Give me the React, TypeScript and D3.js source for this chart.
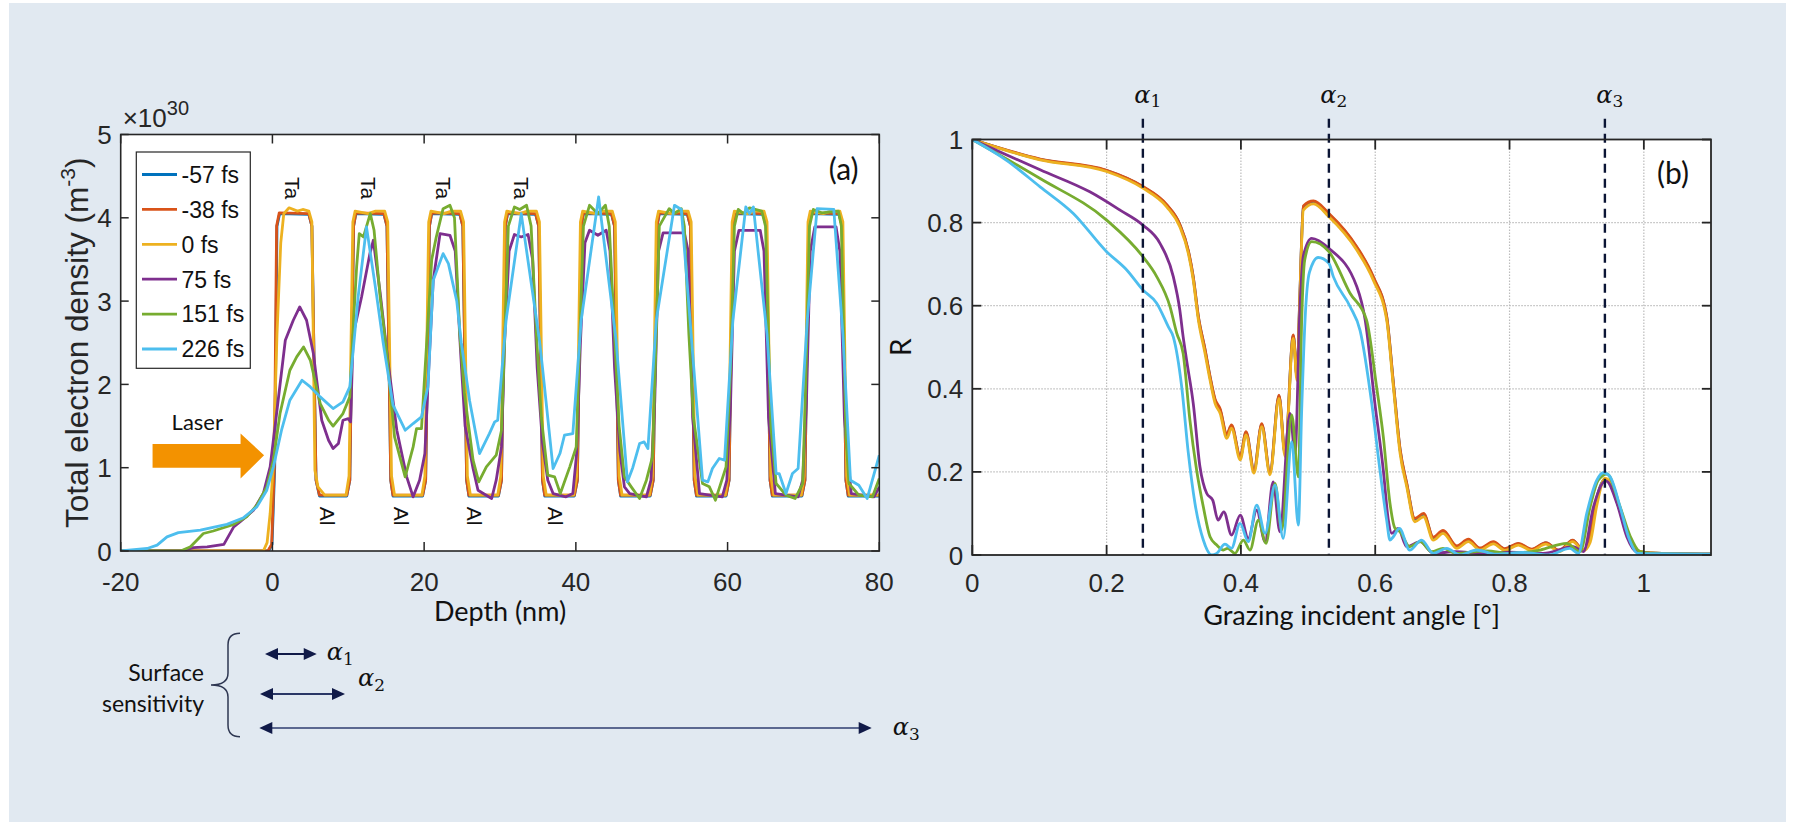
import React from "react";
import * as d3 from "d3";

type Pt = [number, number];

// ---------- shared labels and colours ----------
const seriesLabels = ["-57 fs", "-38 fs", "0 fs", "75 fs", "151 fs", "226 fs"];
const seriesColors = ["#0072BD", "#D95319", "#EDB120", "#7E2F8E", "#77AC30", "#4DBEEE"];

// ---------- panel (a): electron density vs depth ----------
const depthTicks = [-20, 0, 20, 40, 60, 80];
const densityTicks = [0, 1, 2, 3, 4, 5];
const taLabelDepths = [2.7, 12.7, 22.6, 32.9];
const alLabelDepths = [7.3, 17.0, 26.7, 37.3];

const density57: Pt[] = [
  [-20, 0], [-0.5, 0], [-0.05, 0.08], [0.3, 1.0], [0.6, 3.9], [0.95, 4.05], [4.8, 4.04], [5.2, 3.9], [5.75, 0.85], [6.2, 0.66],
  [9.8, 0.66], [10.2, 0.85], [10.7, 3.9], [11.0, 4.05], [14.7, 4.04], [15.1, 3.9], [15.6, 0.85], [15.9, 0.66],
  [19.8, 0.66], [20.2, 0.85], [20.7, 3.9], [21.0, 4.05], [24.7, 4.04], [25.1, 3.9], [25.6, 0.85], [25.9, 0.66],
  [29.8, 0.66], [30.2, 0.85], [30.7, 3.9], [31.0, 4.05], [34.7, 4.04], [35.1, 3.9], [35.6, 0.85], [35.9, 0.66],
  [39.8, 0.66], [40.2, 0.85], [40.7, 3.9], [41.0, 4.05], [44.7, 4.04], [45.1, 3.9], [45.6, 0.85], [45.9, 0.66],
  [49.8, 0.66], [50.2, 0.85], [50.7, 3.9], [51.0, 4.05], [54.7, 4.04], [55.1, 3.9], [55.6, 0.85], [55.9, 0.66],
  [59.8, 0.66], [60.2, 0.85], [60.7, 3.9], [61.0, 4.05], [64.7, 4.04], [65.1, 3.9], [65.6, 0.85], [65.9, 0.66],
  [69.8, 0.66], [70.2, 0.85], [70.7, 3.9], [71.0, 4.05], [74.7, 4.04], [75.1, 3.9], [75.6, 0.85], [75.9, 0.66],
  [80, 0.66],
];

const density38: Pt[] = [
  [-20, 0], [-0.6, 0], [-0.1, 0.08], [0.25, 1.0], [0.55, 3.9], [0.9, 4.06], [4.8, 4.05], [5.2, 3.9], [5.75, 0.85], [6.2, 0.67],
  [9.8, 0.67], [10.2, 0.85], [10.7, 3.9], [11.0, 4.06], [14.7, 4.05], [15.1, 3.9], [15.6, 0.85], [15.9, 0.67],
  [19.8, 0.67], [20.2, 0.85], [20.7, 3.9], [21.0, 4.06], [24.7, 4.05], [25.1, 3.9], [25.6, 0.85], [25.9, 0.67],
  [29.8, 0.67], [30.2, 0.85], [30.7, 3.9], [31.0, 4.06], [34.7, 4.05], [35.1, 3.9], [35.6, 0.85], [35.9, 0.67],
  [39.8, 0.67], [40.2, 0.85], [40.7, 3.9], [41.0, 4.06], [44.7, 4.05], [45.1, 3.9], [45.6, 0.85], [45.9, 0.67],
  [49.8, 0.67], [50.2, 0.85], [50.7, 3.9], [51.0, 4.06], [54.7, 4.05], [55.1, 3.9], [55.6, 0.85], [55.9, 0.67],
  [59.8, 0.67], [60.2, 0.85], [60.7, 3.9], [61.0, 4.06], [64.7, 4.05], [65.1, 3.9], [65.6, 0.85], [65.9, 0.67],
  [69.8, 0.67], [70.2, 0.85], [70.7, 3.9], [71.0, 4.06], [74.7, 4.05], [75.1, 3.9], [75.6, 0.85], [75.9, 0.67],
  [80, 0.67],
];

const density0: Pt[] = [
  [-20, 0], [-1.2, 0], [-0.7, 0.1], [-0.3, 0.45], [0.1, 1.0], [0.6, 2.6], [1.1, 3.7], [1.5, 4.05], [2.2, 4.12], [3.3, 4.08], [4.0, 4.1], [4.8, 4.08], [5.2, 3.95], [5.6, 0.97], [6.0, 0.77], [6.9, 0.67],
  [9.7, 0.67], [10.1, 0.9], [10.6, 3.95], [10.9, 4.08], [12.6, 4.05], [13.6, 4.08], [14.8, 4.08], [15.2, 3.95], [15.7, 0.9], [16.1, 0.67],
  [19.7, 0.67], [20.1, 0.9], [20.6, 3.95], [20.9, 4.08], [22.6, 4.05], [23.6, 4.08], [24.8, 4.08], [25.2, 3.95], [25.7, 0.9], [26.1, 0.67],
  [29.7, 0.67], [30.1, 0.9], [30.6, 3.95], [30.9, 4.08], [32.6, 4.05], [33.6, 4.08], [34.8, 4.08], [35.2, 3.95], [35.7, 0.9], [36.1, 0.67],
  [39.7, 0.67], [40.1, 0.9], [40.6, 3.95], [40.9, 4.08], [42.6, 4.05], [43.6, 4.08], [44.8, 4.08], [45.2, 3.95], [45.7, 0.9], [46.1, 0.67],
  [49.7, 0.67], [50.1, 0.9], [50.6, 3.95], [50.9, 4.08], [52.6, 4.05], [53.6, 4.08], [54.8, 4.08], [55.2, 3.95], [55.7, 0.9], [56.1, 0.67],
  [59.7, 0.67], [60.1, 0.9], [60.6, 3.95], [60.9, 4.08], [62.6, 4.05], [63.6, 4.08], [64.8, 4.08], [65.2, 3.95], [65.7, 0.9], [66.1, 0.67],
  [69.7, 0.67], [70.1, 0.9], [70.6, 3.95], [70.9, 4.08], [72.6, 4.05], [73.6, 4.08], [74.8, 4.08], [75.2, 3.95], [75.7, 0.9], [76.1, 0.67],
  [80, 0.67],
];

const density75: Pt[] = [
  [-20, 0], [-12.1, 0], [-10.4, 0.04], [-8.6, 0.05], [-6.4, 0.08], [-5.1, 0.29], [-4.0, 0.37], [-2.5, 0.49], [-1.2, 0.69], [-0.3, 1.01],
  [0.6, 1.69], [1.7, 2.53], [2.75, 2.77], [3.6, 2.93], [4.5, 2.77], [5.4, 2.37], [6.5, 1.57], [7.4, 1.33], [8.0, 1.23], [8.7, 1.29],
  [9.3, 1.57], [10.0, 1.59], [10.3, 1.55], [10.65, 2.6], [11.75, 3.05], [12.85, 3.57], [13.3, 3.73], [14.2, 3.1], [15.2, 2.3], [16.4, 1.45],
  [17.7, 0.89], [18.55, 0.65], [19.4, 0.85], [20.1, 1.17], [20.5, 2.0], [21.2, 3.25], [22.1, 3.81], [23.4, 3.79], [24.1, 3.6], [24.8, 2.4],
  [25.4, 1.5], [26.45, 0.99], [27.1, 0.73], [27.8, 0.69], [28.9, 0.63], [29.5, 0.85], [30.2, 1.25], [30.6, 2.5], [31.2, 3.6], [31.9, 3.8],
  [32.8, 3.77], [33.7, 3.8], [34.3, 3.5], [34.9, 2.2], [35.6, 1.3], [36.3, 0.85], [37.0, 0.69], [38.7, 0.65], [39.6, 0.69], [40.1, 1.17],
  [40.6, 2.5], [41.2, 3.7], [41.8, 3.85], [42.9, 3.79], [44.0, 3.85], [44.5, 3.6], [45.1, 2.2], [45.8, 1.2], [46.4, 0.77], [47.1, 0.69],
  [49.3, 0.65], [49.9, 0.85], [50.4, 1.8], [50.9, 3.6], [51.5, 3.82], [54.3, 3.82], [54.8, 3.6], [55.4, 1.6], [56.3, 0.69], [59.3, 0.65],
  [59.9, 0.85], [60.4, 1.8], [60.9, 3.6], [61.5, 3.85], [64.3, 3.85], [64.8, 3.6], [65.4, 1.6], [66.3, 0.69], [69.3, 0.65], [69.9, 0.85],
  [70.4, 1.8], [70.9, 3.6], [71.5, 3.89], [74.3, 3.89], [74.8, 3.6], [75.4, 1.6], [76.3, 0.69], [79.3, 0.65], [80, 0.77],
];

const density151: Pt[] = [
  [-20, 0], [-12.1, 0], [-10.8, 0.05], [-9.1, 0.21], [-7.8, 0.24], [-5.1, 0.32], [-3.4, 0.41], [-2.05, 0.55], [-0.74, 0.77], [0.13, 1.09],
  [1.0, 1.65], [2.3, 2.17], [3.2, 2.33], [4.1, 2.45], [5.0, 2.29], [6.3, 1.77], [7.4, 1.57], [8.0, 1.5], [9.3, 1.65], [10.2, 1.85],
  [10.7, 2.77], [11.1, 3.41], [11.45, 3.81], [12.0, 3.77], [12.9, 4.05], [13.4, 3.85], [14.2, 3.05], [15.05, 2.4], [16.1, 1.37], [17.5, 0.89],
  [18.55, 1.25], [19.0, 1.47], [19.65, 1.47], [20.4, 2.6], [21.0, 3.5], [21.6, 3.77], [22.5, 4.11], [23.4, 4.15], [24.0, 4.0], [24.7, 2.6],
  [25.3, 1.9], [26.45, 1.09], [27.2, 0.83], [28.2, 1.01], [29.5, 1.15], [30.2, 1.45], [30.6, 2.5], [31.1, 3.9], [31.9, 4.13], [32.6, 4.1],
  [33.5, 4.15], [34.1, 3.9], [34.8, 2.6], [35.45, 1.6], [36.3, 0.91], [37.2, 0.89], [37.95, 0.69], [39.2, 1.01], [40.05, 1.25], [40.5, 2.5],
  [41.0, 3.9], [41.8, 4.15], [42.9, 4.05], [43.9, 4.15], [44.4, 3.9], [45.1, 2.6], [45.7, 1.5], [46.4, 0.89], [47.3, 0.77], [48.4, 0.63],
  [49.3, 0.85], [50.1, 1.13], [50.6, 2.6], [51.0, 3.9], [52.3, 4.11], [53.0, 4.05], [53.9, 4.11], [54.3, 3.9], [54.9, 2.6], [55.5, 1.6],
  [56.7, 0.81], [57.6, 0.77], [58.4, 0.61], [59.8, 1.01], [60.4, 2.2], [60.9, 3.9], [61.4, 4.1], [62.1, 4.05], [62.9, 4.12], [64.5, 4.08],
  [65.0, 3.9], [65.7, 1.5], [66.4, 0.81], [67.7, 0.67], [68.9, 0.63], [69.9, 0.81], [70.3, 2.0], [70.8, 3.9], [71.3, 4.1], [72.4, 4.06],
  [74.6, 4.08], [75.0, 3.9], [75.6, 1.4], [76.0, 0.81], [77.3, 0.67], [79.1, 0.65], [80, 0.87],
];

const density226: Pt[] = [
  [-20, 0], [-16.5, 0.03], [-15.2, 0.07], [-13.9, 0.17], [-12.4, 0.22], [-9.5, 0.25], [-6.0, 0.32], [-3.8, 0.4], [-2.05, 0.53], [-0.74, 0.73],
  [0.13, 1.01], [1.2, 1.45], [2.3, 1.81], [3.9, 2.05], [5.0, 1.97], [6.3, 1.85], [8.0, 1.71], [9.3, 1.79], [10.2, 1.97], [11.3, 3.05],
  [12.4, 3.89], [13.7, 3.09], [14.6, 2.5], [15.9, 1.75], [17.5, 1.45], [18.55, 1.53], [19.65, 1.61], [20.5, 1.97], [21.2, 3.25], [22.5, 3.57],
  [23.2, 3.45], [24.3, 3.0], [24.9, 2.5], [26.0, 1.8], [27.3, 1.17], [28.6, 1.41], [29.3, 1.55], [29.7, 1.57], [30.8, 2.77], [32.8, 4.05],
  [35.2, 2.53], [35.6, 2.2], [37.0, 0.99], [37.9, 1.17], [38.5, 1.39], [39.6, 1.41], [40.7, 2.77], [43.0, 4.25], [45.3, 2.53], [46.8, 0.83],
  [47.5, 1.0], [48.4, 1.29], [49.0, 1.31], [49.5, 1.23], [50.6, 2.77], [53.0, 4.15], [53.9, 4.1], [55.2, 2.6], [56.7, 0.85], [57.4, 0.83],
  [58.0, 0.99], [58.9, 1.11], [59.6, 1.09], [60.7, 2.77], [62.4, 4.13], [62.9, 4.05], [63.4, 4.13], [65.2, 2.6], [66.4, 0.93], [66.8, 0.93],
  [67.7, 0.69], [68.55, 0.93], [69.3, 0.99], [70.5, 2.77], [71.8, 4.11], [74.0, 4.1], [75.2, 2.6], [76.2, 0.85], [77.3, 0.79], [78.4, 0.63],
  [80, 1.15],
];

// ---------- panel (b): reflectivity vs grazing angle ----------
const angleTicks = [0, 0.2, 0.4, 0.6, 0.8, 1];
const reflTicks = [0, 0.2, 0.4, 0.6, 0.8, 1];
const alphaAngles = [0.254, 0.531, 0.942];
const alphaNames = ["1", "2", "3"];

const refl57: Pt[] = [
  [0, 1], [0.101, 0.952], [0.2, 0.925], [0.254, 0.886], [0.2895, 0.842], [0.309, 0.795], [0.3217, 0.731], [0.329, 0.668], [0.3366, 0.573],
  [0.3466, 0.493], [0.354, 0.428], [0.3615, 0.372], [0.369, 0.349], [0.379, 0.289], [0.386, 0.311], [0.399, 0.235], [0.4076, 0.295],
  [0.4195, 0.203], [0.431, 0.314], [0.4433, 0.198], [0.4567, 0.383], [0.4657, 0.243], [0.478, 0.528], [0.4835, 0.428], [0.4875, 0.61],
  [0.493, 0.838], [0.508, 0.85], [0.531, 0.82], [0.5725, 0.74], [0.597, 0.668], [0.617, 0.573], [0.627, 0.413], [0.637, 0.253],
  [0.647, 0.17], [0.659, 0.086], [0.672, 0.098], [0.6865, 0.041], [0.701, 0.057], [0.7215, 0.02], [0.7387, 0.036], [0.756, 0.015],
  [0.776, 0.03], [0.793, 0.014], [0.813, 0.027], [0.833, 0.013], [0.854, 0.029], [0.874, 0.01], [0.894, 0.035], [0.91, 0.011],
  [0.92, 0.047], [0.93, 0.138], [0.942, 0.182], [0.952, 0.166], [0.9646, 0.106], [0.9795, 0.035], [0.994, 0.008], [1.01, 0.005], [1.1, 0.002],
];

const refl38: Pt[] = [
  [0, 1], [0.101, 0.953], [0.2, 0.926], [0.254, 0.887], [0.2895, 0.843], [0.309, 0.796], [0.3217, 0.733], [0.329, 0.67], [0.3366, 0.575],
  [0.3466, 0.495], [0.354, 0.43], [0.3615, 0.375], [0.369, 0.352], [0.379, 0.291], [0.386, 0.313], [0.399, 0.237], [0.4076, 0.297],
  [0.4195, 0.205], [0.431, 0.316], [0.4433, 0.2], [0.4567, 0.385], [0.4657, 0.245], [0.478, 0.53], [0.4835, 0.43], [0.4875, 0.61],
  [0.493, 0.84], [0.508, 0.852], [0.531, 0.822], [0.5725, 0.742], [0.597, 0.67], [0.617, 0.575], [0.627, 0.415], [0.637, 0.255],
  [0.647, 0.172], [0.659, 0.088], [0.672, 0.1], [0.6865, 0.043], [0.701, 0.059], [0.7215, 0.022], [0.7387, 0.038], [0.756, 0.017],
  [0.776, 0.032], [0.793, 0.015], [0.813, 0.028], [0.833, 0.014], [0.854, 0.03], [0.874, 0.011], [0.894, 0.036], [0.91, 0.012],
  [0.92, 0.045], [0.93, 0.135], [0.942, 0.18], [0.952, 0.165], [0.9646, 0.105], [0.9795, 0.035], [0.994, 0.008], [1.01, 0.005], [1.1, 0.002],
];

const refl0: Pt[] = [
  [0, 1], [0.101, 0.951], [0.2, 0.923], [0.254, 0.883], [0.2895, 0.838], [0.309, 0.79], [0.3217, 0.726], [0.329, 0.662], [0.3366, 0.566],
  [0.3466, 0.485], [0.354, 0.421], [0.3615, 0.365], [0.369, 0.341], [0.379, 0.281], [0.386, 0.305], [0.399, 0.229], [0.4076, 0.289],
  [0.4195, 0.197], [0.431, 0.309], [0.4433, 0.193], [0.4567, 0.377], [0.4657, 0.237], [0.478, 0.521], [0.4835, 0.42], [0.4875, 0.6],
  [0.493, 0.83], [0.508, 0.845], [0.531, 0.814], [0.5725, 0.734], [0.597, 0.662], [0.617, 0.566], [0.627, 0.405], [0.637, 0.245],
  [0.647, 0.164], [0.659, 0.08], [0.672, 0.092], [0.6865, 0.036], [0.701, 0.052], [0.7215, 0.016], [0.7387, 0.032], [0.756, 0.012],
  [0.776, 0.027], [0.793, 0.011], [0.813, 0.024], [0.833, 0.011], [0.854, 0.026], [0.874, 0.008], [0.894, 0.032], [0.91, 0.01],
  [0.92, 0.03], [0.93, 0.12], [0.942, 0.185], [0.952, 0.17], [0.9646, 0.108], [0.9795, 0.036], [0.994, 0.008], [1.01, 0.005], [1.1, 0.002],
];

const refl75: Pt[] = [
  [0, 1], [0.101, 0.927], [0.175, 0.874], [0.22, 0.83], [0.254, 0.794], [0.2795, 0.75], [0.2993, 0.67], [0.309, 0.59], [0.314, 0.525],
  [0.319, 0.47], [0.329, 0.365], [0.339, 0.2125], [0.349, 0.1485], [0.358, 0.132], [0.366, 0.084], [0.3746, 0.104], [0.386, 0.048],
  [0.399, 0.096], [0.411, 0.04], [0.4235, 0.108], [0.436, 0.032], [0.448, 0.176], [0.458, 0.056], [0.473, 0.341], [0.4806, 0.245],
  [0.488, 0.6], [0.493, 0.72], [0.5054, 0.762], [0.531, 0.738], [0.5725, 0.646], [0.585, 0.566], [0.5995, 0.365], [0.612, 0.2046],
  [0.6195, 0.084], [0.6246, 0.052], [0.634, 0.064], [0.647, 0.02], [0.667, 0.032], [0.6865, 0.004], [0.72, 0.008], [0.76, 0.003],
  [0.8, 0.007], [0.85, 0.004], [0.895, 0.02], [0.91, 0.008], [0.925, 0.116], [0.9397, 0.175], [0.944, 0.178], [0.96, 0.124],
  [0.9746, 0.044], [0.989, 0.008], [1.01, 0.004], [1.1, 0.002],
];

const refl151: Pt[] = [
  [0, 1], [0.101, 0.906], [0.2, 0.806], [0.254, 0.718], [0.2746, 0.67], [0.2944, 0.598], [0.3044, 0.534], [0.314, 0.485],
  [0.324, 0.325], [0.334, 0.2046], [0.344, 0.116], [0.354, 0.044], [0.364, 0.024], [0.374, 0.012], [0.38, 0.016], [0.391, 0.004],
  [0.4036, 0.036], [0.4135, 0.012], [0.426, 0.084], [0.4374, 0.028], [0.4508, 0.1725], [0.4607, 0.06], [0.4757, 0.337], [0.4855, 0.188],
  [0.4905, 0.566], [0.495, 0.71], [0.5054, 0.754], [0.531, 0.73], [0.5625, 0.63], [0.587, 0.566], [0.602, 0.405], [0.612, 0.285],
  [0.622, 0.124], [0.6295, 0.064], [0.637, 0.056], [0.6513, 0.02], [0.667, 0.032], [0.684, 0.008], [0.701, 0.016], [0.72, 0.004],
  [0.766, 0.01], [0.8, 0.004], [0.8455, 0.012], [0.885, 0.028], [0.905, 0.008], [0.92, 0.116], [0.932, 0.18], [0.945, 0.195],
  [0.9646, 0.116], [0.98, 0.044], [0.994, 0.008], [1.01, 0.004], [1.1, 0.002],
];

const refl226: Pt[] = [
  [0, 1], [0.051, 0.95], [0.101, 0.886], [0.1504, 0.822], [0.2, 0.73], [0.23, 0.686], [0.254, 0.638], [0.2746, 0.606], [0.292, 0.549],
  [0.2993, 0.525], [0.3118, 0.405], [0.3217, 0.245], [0.3316, 0.124], [0.344, 0.036], [0.3565, 0.0], [0.364, 0.004], [0.3763, 0.026],
  [0.386, 0.016], [0.3987, 0.076], [0.411, 0.032], [0.4235, 0.12], [0.436, 0.052], [0.4508, 0.168], [0.463, 0.04], [0.4757, 0.273],
  [0.4855, 0.072], [0.4905, 0.35], [0.4955, 0.566], [0.502, 0.68], [0.515, 0.716], [0.531, 0.702], [0.5376, 0.67], [0.5625, 0.598],
  [0.5775, 0.54], [0.5948, 0.365], [0.607, 0.2046], [0.617, 0.084], [0.622, 0.036], [0.627, 0.044], [0.636, 0.064], [0.6513, 0.012],
  [0.669, 0.036], [0.6865, 0.004], [0.7065, 0.016], [0.726, 0.0], [0.751, 0.012], [0.78, 0.002], [0.82, 0.006], [0.857, 0.0],
  [0.8898, 0.016], [0.9025, 0.004], [0.915, 0.1], [0.93, 0.18], [0.9397, 0.198], [0.949, 0.19], [0.9646, 0.116], [0.977, 0.044],
  [0.991, 0.004], [1.01, 0.003], [1.1, 0.002],
];

const densitySeries = [density57, density38, density0, density75, density151, density226];
const reflSeries = [refl57, refl38, refl0, refl75, refl151, refl226];

// sensing-depth arrows under panel (a), in nm
const sensingArrows: { from: number; to: number; name: string }[] = [
  { from: -0.98, to: 5.84, name: "1" },
  { from: -1.64, to: 9.57, name: "2" },
  { from: -1.73, to: 79.0, name: "3" },
];

const ARIAL = "'Liberation Sans', Arial, Helvetica, sans-serif";
const SANS = "Lato, 'Open Sans', sans-serif";
const MATH = "'DejaVu Serif', 'Liberation Serif', serif";
const AXIS = "#262626";
const NAVY = "#101a48";

export default function App() {
  // panel (a) scales
  const xA = d3.scaleLinear().domain([-20, 80]).range([120.7, 879.3]);
  const yA = d3.scaleLinear().domain([0, 5]).range([551, 134.5]);
  // panel (b) scales
  const xB = d3.scaleLinear().domain([0, 1.1]).range([972.3, 1711]);
  const yB = d3.scaleLinear().domain([0, 1]).range([555, 139.5]);

  const lineA = d3.line<Pt>().x((d) => xA(d[0])).y((d) => yA(d[1]));
  const lineB = d3
    .line<Pt>()
    .x((d) => xB(d[0]))
    .y((d) => yB(d[1]))
    .curve(d3.curveMonotoneX);

  const [ax0, ax1] = xA.range();
  const [ay0, ay1] = yA.range();
  const [bx0, bx1] = xB.range();
  const [by0, by1] = yB.range();

  const fmtB = (v: number) => (v === 0 || v === 1 ? String(v) : d3.format(".1f")(v));

  // double-headed arrow
  const arrow = (x1: number, x2: number, y: number, lineColor: string, key: string) => {
    const hl = 13;
    const hh = 6;
    return (
      <g key={key}>
        <line x1={x1 + hl - 1} x2={x2 - hl + 1} y1={y} y2={y} stroke={lineColor} strokeWidth={2} />
        <path d={`M${x1},${y} L${x1 + hl},${y - hh} L${x1 + hl},${y + hh} Z`} fill={NAVY} />
        <path d={`M${x2},${y} L${x2 - hl},${y - hh} L${x2 - hl},${y + hh} Z`} fill={NAVY} />
      </g>
    );
  };

  const arrowYs = [654, 694, 728];
  const arrowLineColors = [NAVY, "#2a3766", "#5b6890"];
  const alphaLabelPos = [
    { dx: 10, y: 660 },
    { dx: 13, y: 686 },
    { dx: 21, y: 735 },
  ];

  return (
    <div style={{ position: "fixed", left: 0, top: 0 }}>
      <svg width={1793} height={823} style={{ display: "block" }}>
        <defs>
          <clipPath id="clipA">
            <rect x={ax0} y={ay1} width={ax1 - ax0} height={ay0 - ay1} />
          </clipPath>
          <clipPath id="clipB">
            <rect x={bx0} y={by1} width={bx1 - bx0} height={by0 - by1} />
          </clipPath>
        </defs>

        <rect x={0} y={0} width={1793} height={823} fill="#ffffff" />
        <rect x={9} y={3} width={1777} height={819} fill="#e1e9f1" />

        {/* ================= panel (a) ================= */}
        <rect x={ax0} y={ay1} width={ax1 - ax0} height={ay0 - ay1} fill="#ffffff" />

        <g clipPath="url(#clipA)">
          {densitySeries.map((s, i) => (
            <path
              key={i}
              d={lineA(s) ?? ""}
              fill="none"
              stroke={seriesColors[i]}
              strokeWidth={2.8}
              strokeLinejoin="round"
            />
          ))}
        </g>

        {/* layer labels */}
        {taLabelDepths.map((d, i) => (
          <text
            key={`ta${i}`}
            transform={`translate(${xA(d) - 7.5},${yA(4.49)}) rotate(90)`}
            fontFamily={ARIAL}
            fontSize={21}
            fill="#111"
          >
            Ta
          </text>
        ))}
        {alLabelDepths.map((d, i) => (
          <text
            key={`al${i}`}
            transform={`translate(${xA(d) - 7.5},${yA(0.53)}) rotate(90)`}
            fontFamily={ARIAL}
            fontSize={21}
            fill="#111"
          >
            Al
          </text>
        ))}

        {/* laser arrow */}
        <path
          d={`M${xA(-15.8)},${yA(1.285)} L${xA(-4.2)},${yA(1.285)} L${xA(-4.2)},${yA(1.41)} L${xA(-1.1)},${yA(1.15)} L${xA(-4.2)},${yA(0.87)} L${xA(-4.2)},${yA(1.0)} L${xA(-15.8)},${yA(1.0)} Z`}
          fill="#f39200"
        />
        <text x={xA(-9.9)} y={yA(1.45)} textAnchor="middle" fontFamily={SANS} fontSize={22} fill="#111">
          Laser
        </text>

        {/* axes box and ticks */}
        <rect x={ax0} y={ay1} width={ax1 - ax0} height={ay0 - ay1} fill="none" stroke={AXIS} strokeWidth={1.6} />
        {depthTicks.map((t) => (
          <g key={`xa${t}`}>
            <line x1={xA(t)} x2={xA(t)} y1={ay0} y2={ay0 - 9} stroke={AXIS} strokeWidth={1.5} />
            <line x1={xA(t)} x2={xA(t)} y1={ay1} y2={ay1 + 9} stroke={AXIS} strokeWidth={1.5} />
            <text x={xA(t)} y={ay0 + 40} textAnchor="middle" fontFamily={ARIAL} fontSize={26} fill={AXIS}>
              {t}
            </text>
          </g>
        ))}
        {densityTicks.map((t) => (
          <g key={`ya${t}`}>
            <line x1={ax0} x2={ax0 + 8} y1={yA(t)} y2={yA(t)} stroke={AXIS} strokeWidth={1.5} />
            <line x1={ax1} x2={ax1 - 8} y1={yA(t)} y2={yA(t)} stroke={AXIS} strokeWidth={1.5} />
            <text x={ax0 - 9} y={yA(t) + 9.5} textAnchor="end" fontFamily={ARIAL} fontSize={26} fill={AXIS}>
              {t}
            </text>
          </g>
        ))}
        <text x={ax0 + 2} y={127} fontFamily={ARIAL} fontSize={26} fill={AXIS}>
          ×10
          <tspan dy={-12} fontSize={20}>
            30
          </tspan>
        </text>
        <text
          transform={`translate(88,${(ay0 + ay1) / 2}) rotate(-90)`}
          textAnchor="middle"
          fontFamily={ARIAL}
          fontSize={31.5}
          fill={AXIS}
        >
          Total electron density (m
          <tspan dy={-13} fontSize={21}>
            -3
          </tspan>
          <tspan dy={13}>)</tspan>
        </text>
        <text x={(ax0 + ax1) / 2} y={621} textAnchor="middle" fontFamily={SANS} fontSize={27} fill="#111">
          Depth (nm)
        </text>
        <text x={843.7} y={180} textAnchor="middle" fontFamily={SANS} fontSize={30} fill="#111">
          (a)
        </text>

        {/* legend */}
        <rect x={136.3} y={152} width={114} height={216.3} fill="#ffffff" stroke={AXIS} strokeWidth={1.2} />
        {seriesLabels.map((lab, i) => {
          const y = 174.5 + i * 34.9;
          return (
            <g key={lab}>
              <line x1={142} x2={177} y1={y} y2={y} stroke={seriesColors[i]} strokeWidth={2.8} />
              <text x={181.5} y={y + 8.3} fontFamily={ARIAL} fontSize={23} fill="#111">
                {lab}
              </text>
            </g>
          );
        })}

        {/* surface sensitivity annotation */}
        <text x={204} y={681} textAnchor="end" fontFamily={SANS} fontSize={23} fill="#111">
          Surface
        </text>
        <text x={204} y={711.7} textAnchor="end" fontFamily={SANS} fontSize={23} fill="#111">
          sensitivity
        </text>
        <path
          d="M240,633.3 Q228,633.3 228,645 L228,673 Q228,685 211,685 Q228,685 228,697 L228,725 Q228,736.7 240,736.7"
          fill="none"
          stroke="#2e3752"
          strokeWidth={1.5}
        />
        {sensingArrows.map((a, i) => {
          const x1 = xA(a.from);
          const x2 = xA(a.to);
          return (
            <g key={`sa${i}`}>
              {arrow(x1, x2, arrowYs[i], arrowLineColors[i], `ar${i}`)}
              <text
                x={x2 + alphaLabelPos[i].dx}
                y={alphaLabelPos[i].y}
                fontFamily={MATH}
                fontStyle="italic"
                fontSize={24}
                fill="#111"
              >
                α
                <tspan dy={5} fontSize={17} fontStyle="normal">
                  {a.name}
                </tspan>
              </text>
            </g>
          );
        })}

        {/* ================= panel (b) ================= */}
        <rect x={bx0} y={by1} width={bx1 - bx0} height={by0 - by1} fill="#ffffff" />
        {/* grid */}
        {angleTicks
          .filter((t) => t > 0)
          .map((t) => (
            <line
              key={`gx${t}`}
              x1={xB(t)}
              x2={xB(t)}
              y1={by0}
              y2={by1}
              stroke="#bcbcbc"
              strokeWidth={1.2}
              strokeDasharray="1.5,1.5"
            />
          ))}
        {reflTicks
          .filter((t) => t > 0 && t < 1)
          .map((t) => (
            <line
              key={`gy${t}`}
              x1={bx0}
              x2={bx1}
              y1={yB(t)}
              y2={yB(t)}
              stroke="#bcbcbc"
              strokeWidth={1.2}
              strokeDasharray="1.5,1.5"
            />
          ))}

        <g clipPath="url(#clipB)">
          {reflSeries.map((s, i) => (
            <path
              key={i}
              d={lineB(s) ?? ""}
              fill="none"
              stroke={seriesColors[i]}
              strokeWidth={2.8}
              strokeLinejoin="round"
            />
          ))}
        </g>

        {/* alpha markers */}
        {alphaAngles.map((a, i) => (
          <g key={`alpha${i}`}>
            <line
              x1={xB(a)}
              x2={xB(a)}
              y1={yB(1.05)}
              y2={by0}
              stroke="#0b1535"
              strokeWidth={2.4}
              strokeDasharray="9,6"
            />
            <text
              x={xB(a) + 5}
              y={103}
              textAnchor="middle"
              fontFamily={MATH}
              fontStyle="italic"
              fontSize={24}
              fill="#111"
            >
              α
              <tspan dy={4} fontSize={17} fontStyle="normal">
                {alphaNames[i]}
              </tspan>
            </text>
          </g>
        ))}

        {/* axes box and ticks */}
        <rect x={bx0} y={by1} width={bx1 - bx0} height={by0 - by1} fill="none" stroke={AXIS} strokeWidth={1.8} />
        {angleTicks.map((t) => (
          <g key={`xb${t}`}>
            <line x1={xB(t)} x2={xB(t)} y1={by0} y2={by0 - 10} stroke={AXIS} strokeWidth={1.8} />
            <line x1={xB(t)} x2={xB(t)} y1={by1} y2={by1 + 10} stroke={AXIS} strokeWidth={1.8} />
            <text x={xB(t)} y={by0 + 37} textAnchor="middle" fontFamily={ARIAL} fontSize={26} fill={AXIS}>
              {fmtB(t)}
            </text>
          </g>
        ))}
        {reflTicks.map((t) => (
          <g key={`yb${t}`}>
            <line x1={bx0} x2={bx0 + 9} y1={yB(t)} y2={yB(t)} stroke={AXIS} strokeWidth={1.8} />
            <line x1={bx1} x2={bx1 - 9} y1={yB(t)} y2={yB(t)} stroke={AXIS} strokeWidth={1.8} />
            <text x={bx0 - 9} y={yB(t) + 9.5} textAnchor="end" fontFamily={ARIAL} fontSize={26} fill={AXIS}>
              {fmtB(t)}
            </text>
          </g>
        ))}
        <text
          transform={`translate(911,${(by0 + by1) / 2}) rotate(-90)`}
          textAnchor="middle"
          fontFamily={SANS}
          fontSize={28}
          fill="#111"
        >
          R
        </text>
        <text x={(bx0 + bx1) / 2 + 10} y={625} textAnchor="middle" fontFamily={SANS} fontSize={27} fill="#111">
          Grazing incident angle [°]
        </text>
        <text x={1673} y={184} textAnchor="middle" fontFamily={SANS} fontSize={30} fill="#111">
          (b)
        </text>
      </svg>
    </div>
  );
}
